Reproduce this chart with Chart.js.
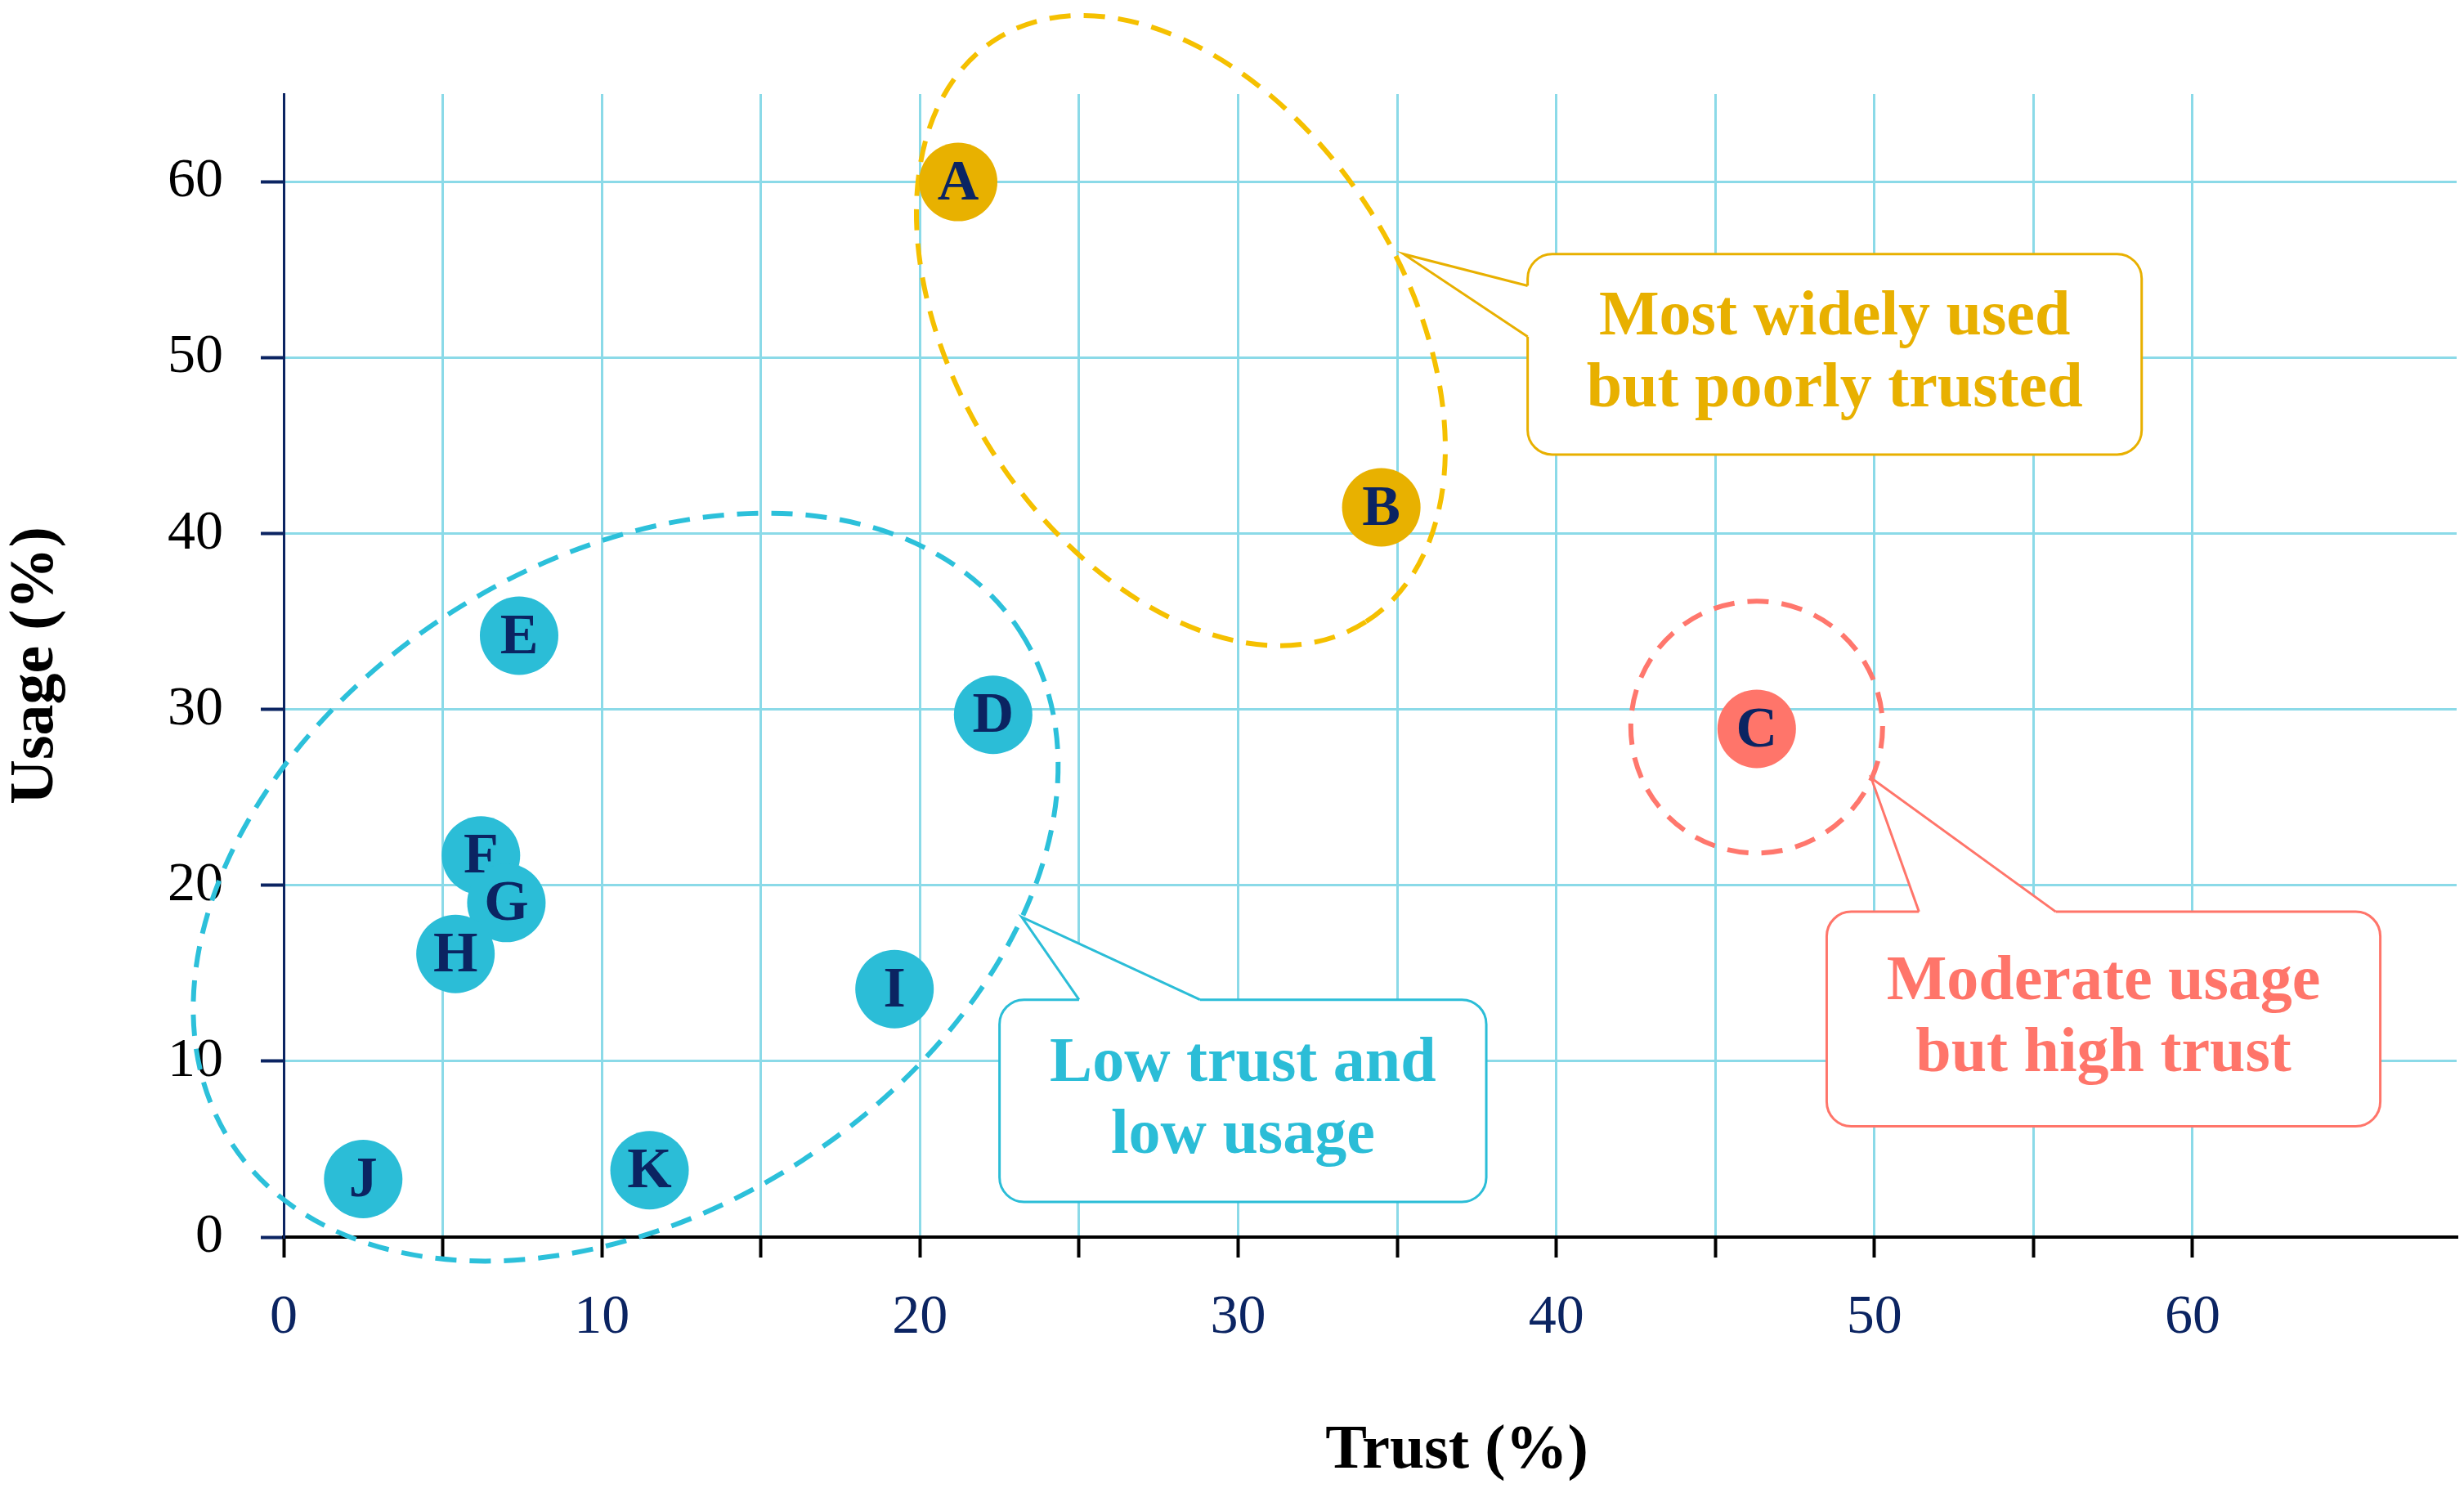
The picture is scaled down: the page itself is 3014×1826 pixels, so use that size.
<!DOCTYPE html>
<html>
<head>
<meta charset="utf-8">
<script src="https://cdn.jsdelivr.net/npm/chart.js@4.4.1/dist/chart.umd.min.js"></script>
<style>
  html, body { margin: 0; padding: 0; background: #fff; }
  canvas { display: block; }
</style>
</head>
<body>
<canvas id="trustChart" width="3014" height="1826"></canvas>
<script>
// tools
const toolNames = ["A", "B", "C", "D", "E", "F", "G", "H", "I", "J", "K"];
const trustValues = [21.2, 34.5, 46.3, 22.3, 7.4, 6.2, 7.0, 5.4, 19.2, 2.5, 11.5];
const usageValues = [60.0, 41.5, 28.9, 29.7, 34.2, 21.7, 19.0, 16.1, 14.1, 3.3, 3.8];
const toolGroups = ["gold", "gold", "red", "cyan", "cyan", "cyan", "cyan", "cyan", "cyan", "cyan", "cyan"];

const xTicks = [0, 10, 20, 30, 40, 50, 60];
const yTicks = [0, 10, 20, 30, 40, 50, 60];

const groupColors = { gold: "#E8B100", red: "#FF756A", cyan: "#2BBDD7" };
const ringColors = { gold: "#F5C000", red: "#FF776D", cyan: "#2CC0DA" };
const navy = "#0B2462";
const gridColor = "#8BDAE8";
const serif = "'Liberation Serif', 'Times New Roman', serif";

// dashed groupings, centres in data units, radii in pixels
const rings = [
    { group: "gold", cx: 28.2, cy: 51.55, rx: 422, ry: 274, rot: 57.6 },
    { group: "cyan", cx: 10.75, cy: 19.9, rx: 575, ry: 398, rot: -32.9 },
    { group: "red", cx: 46.3, cy: 29.0, rx: 154, ry: 154, rot: 0 }
];

// callout boxes, in data units
const callouts = [
    { group: "gold", lines: ["Most widely used", "but poorly trusted"],
      box: [39.1, 58.4, 55.9, 44.5], tip: [35.2, 55.9], base: [[39.1, 54.1], [39.1, 51.2]] },
    { group: "cyan", lines: ["Low trust and", "low usage"],
      box: [22.5, 37.8, 13.5, 2.0], tip: [23.2, 18.2], base: [[25.0, 13.5], [28.8, 13.5]] },
    { group: "red", lines: ["Moderate usage", "but high trust"],
      box: [48.5, 65.9, 18.5, 6.3], tip: [49.9, 26.1], base: [[51.4, 18.5], [55.7, 18.5]] }
];

const textColors = { gold: "#E8B000", cyan: "#2BBDD7", red: "#FF756A" };

const pointData = trustValues.map((t, i) => ({ x: t, y: usageValues[i] }));

const extrasPlugin = {
    id: "extras",
    beforeDatasetsDraw(chart) {
        const c = chart.ctx;
        const xs = chart.scales.x, ys = chart.scales.y;
        const px = v => xs.getPixelForValue(v);
        const py = v => ys.getPixelForValue(v);

        c.save();
        rings.forEach(r => {
            c.beginPath();
            c.ellipse(px(r.cx), py(r.cy), r.rx, r.ry, r.rot * Math.PI / 180, 0, Math.PI * 2);
            c.setLineDash([26, 16]);
            c.lineWidth = 6;
            c.strokeStyle = ringColors[r.group];
            c.stroke();
        });
        c.setLineDash([]);

        callouts.forEach(co => {
            const col = textColors[co.group];
            const x1 = px(co.box[0]), x2 = px(co.box[1]);
            const y1 = py(co.box[2]), y2 = py(co.box[3]);
            c.beginPath();
            c.roundRect(x1, y1, x2 - x1, y2 - y1, 30);
            c.fillStyle = "#fff";
            c.fill();
            c.lineWidth = 3;
            c.strokeStyle = col;
            c.stroke();

            const tx = px(co.tip[0]), ty = py(co.tip[1]);
            const b1 = [px(co.base[0][0]), py(co.base[0][1])];
            const b2 = [px(co.base[1][0]), py(co.base[1][1])];
            c.beginPath();
            c.moveTo(b1[0], b1[1]);
            c.lineTo(tx, ty);
            c.lineTo(b2[0], b2[1]);
            c.closePath();
            c.fill();
            c.beginPath();
            c.moveTo(b1[0], b1[1]);
            c.lineTo(b2[0], b2[1]);
            c.lineWidth = 5;
            c.strokeStyle = "#fff";
            c.stroke();
            c.beginPath();
            c.moveTo(b1[0], b1[1]);
            c.lineTo(tx, ty);
            c.lineTo(b2[0], b2[1]);
            c.lineWidth = 3;
            c.strokeStyle = col;
            c.stroke();

            c.fillStyle = col;
            c.font = "bold 78px " + serif;
            c.textAlign = "center";
            c.textBaseline = "middle";
            const mx = (x1 + x2) / 2, my = (y1 + y2) / 2;
            c.fillText(co.lines[0], mx, my - 44);
            c.fillText(co.lines[1], mx, my + 44);
        });
        c.restore();
    },
    afterDatasetsDraw(chart) {
        const c = chart.ctx;
        const meta = chart.getDatasetMeta(0);
        c.save();
        c.fillStyle = navy;
        c.font = "bold 70px " + serif;
        c.textAlign = "center";
        c.textBaseline = "middle";
        meta.data.forEach((pt, i) => {
            c.fillText(toolNames[i], pt.x, pt.y + 3);
        });

        // axis titles
        c.fillStyle = "#000";
        c.font = "bold 76px " + serif;
        c.fillText("Trust (%)", 1782, 1775);
        c.translate(44, (chart.chartArea.top + chart.chartArea.bottom) / 2);
        c.rotate(-Math.PI / 2);
        c.fillText("Usage (%)", 0, 0);
        c.restore();
    }
};

const ctx = document.getElementById("trustChart").getContext("2d");
const myChart = new Chart(ctx, {
    type: "scatter",
    data: {
        datasets: [{
            data: pointData,
            backgroundColor: toolGroups.map(g => groupColors[g]),
            borderWidth: 0,
            pointRadius: 48,
            pointHoverRadius: 48
        }]
    },
    options: {
        responsive: false,
        animation: false,
        devicePixelRatio: 1,
        layout: { autoPadding: false, padding: { top: 115, right: 9, left: 0, bottom: 0 } },
        plugins: { legend: { display: false }, tooltip: { enabled: false } },
        scales: {
            x: {
                type: "linear",
                min: 0,
                max: 68.3,
                afterBuildTicks: s => { s.ticks = s.ticks.filter(t => t.value % 5 === 0); },
                afterFit: s => { s.height = 313; },
                ticks: {
                    stepSize: 5,
                    autoSkip: false,
                    maxRotation: 0,
                    padding: 0,
                    color: navy,
                    font: { family: serif, size: 68, lineHeight: 2.18 },
                    callback: v => (xTicks.includes(v) ? String(v) : "")
                },
                grid: { color: gridColor, lineWidth: 3, tickLength: 25, tickColor: "#000", tickWidth: 4 },
                border: { color: "#000", width: 4 }
            },
            y: {
                type: "linear",
                min: 0,
                max: 65,
                afterBuildTicks: s => { s.ticks = s.ticks.filter(t => yTicks.includes(t.value)); },
                afterFit: s => { s.width = 347; },
                ticks: {
                    stepSize: 10,
                    padding: 46,
                    color: "#000",
                    font: { family: serif, size: 68 }
                },
                grid: { color: gridColor, lineWidth: 3, tickLength: 28, tickColor: navy, tickWidth: 4 },
                border: { color: navy, width: 3 }
            }
        }
    },
    plugins: [extrasPlugin]
});
</script>
</body>
</html>
